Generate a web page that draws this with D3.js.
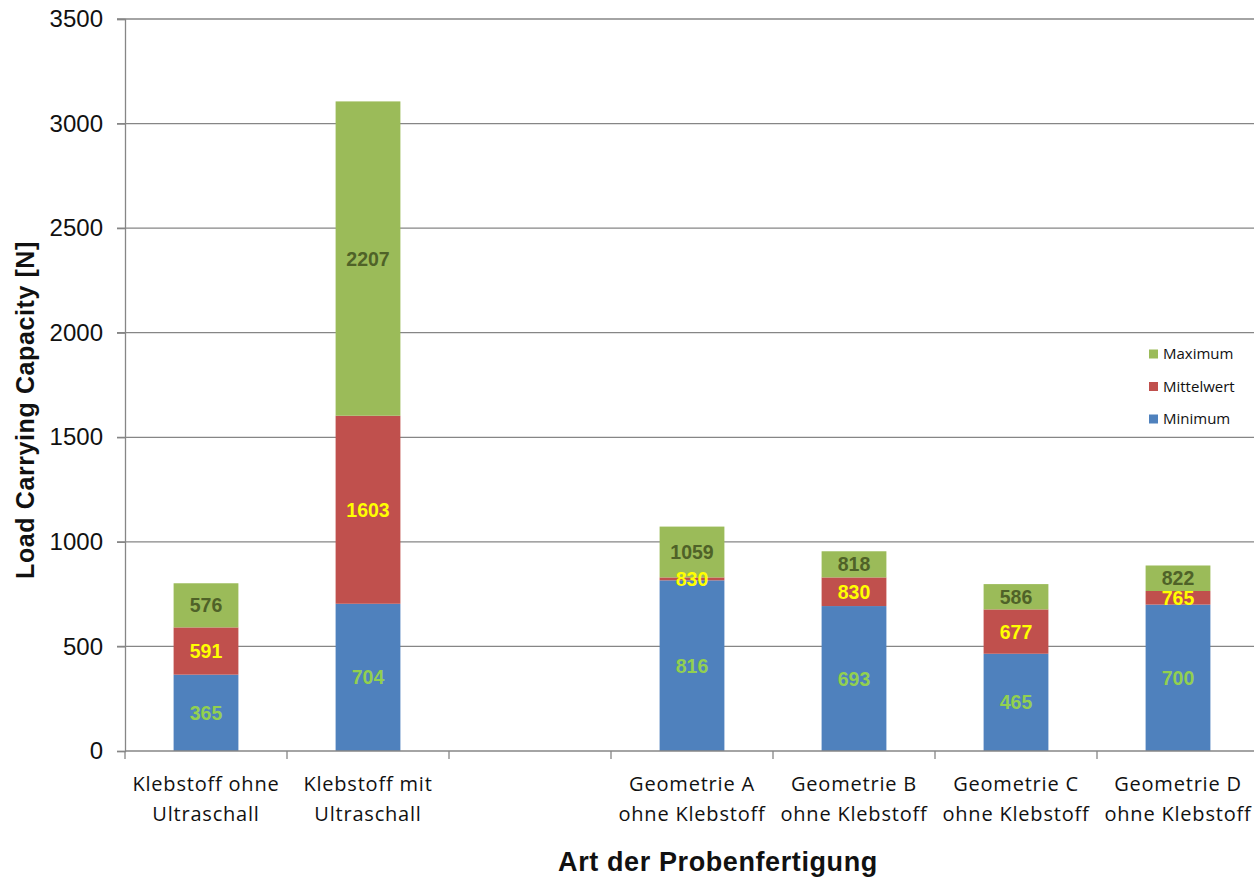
<!DOCTYPE html>
<html>
<head>
<meta charset="utf-8">
<script src="https://cdn.jsdelivr.net/npm/d3@7"></script>
<style>
  html, body { margin: 0; padding: 0; background: #fff; }
  svg { display: block; }
</style>
</head>
<body>
<svg id="chart" width="1254" height="878"></svg>
<script>
// Sample preparation methods (third slot intentionally left empty)
const categories = [
  "Klebstoff ohne|Ultraschall",
  "Klebstoff mit|Ultraschall",
  "",
  "Geometrie A|ohne Klebstoff",
  "Geometrie B|ohne Klebstoff",
  "Geometrie C|ohne Klebstoff",
  "Geometrie D|ohne Klebstoff"
];
// Load carrying capacity in N
const minimum    = [365,  704, null, 816, 693, 465, 700];
const mittelwert = [591, 1603, null, 830, 830, 677, 765];
const maximum    = [576, 2207, null, 1059, 818, 586, 822];

const yTicks = [0, 500, 1000, 1500, 2000, 2500, 3000, 3500];
const seriesNames = ["Minimum", "Mittelwert", "Maximum"];
const seriesColors = ["#4f81bd", "#c0504d", "#9bbb59"];
const labelColors = ["#92d050", "#ffff00", "#4f6228"];

const svg = d3.select("#chart");

const x = d3.scaleBand()
  .domain(categories)
  .range([125, 1259])
  .paddingInner(0.6)
  .paddingOuter(0.3);

const y = d3.scaleLinear().domain([0, 3500]).range([751, 19]);

// Segments: minimum, (mean - minimum), (maximum - minimum); labels show the raw values
const rows = categories.map((c, i) => ({
  cat: c,
  Minimum: minimum[i] == null ? 0 : minimum[i],
  Mittelwert: minimum[i] == null ? 0 : mittelwert[i] - minimum[i],
  Maximum: minimum[i] == null ? 0 : maximum[i] - minimum[i],
  labels: [minimum[i], mittelwert[i], maximum[i]]
}));

const stacked = d3.stack().keys(seriesNames)(rows);

// Gridlines
svg.append("g")
  .selectAll("line")
  .data(yTicks.filter(d => d > 0))
  .join("line")
  .attr("x1", 117).attr("x2", 1259)
  .attr("y1", d => y(d)).attr("y2", d => y(d))
  .attr("stroke", "#868686").attr("stroke-width", 1.3);

// Y axis
const yAxis = svg.append("g")
  .attr("transform", "translate(125,0)")
  .call(d3.axisLeft(y).tickValues(yTicks).tickSize(8).tickPadding(14).tickFormat(d3.format("d")));
yAxis.select(".domain").attr("stroke", "#868686").attr("stroke-width", 1.3);
yAxis.selectAll(".tick line").attr("stroke", "#868686").attr("stroke-width", 1.3);
yAxis.selectAll(".tick text")
  .attr("font-family", "'Liberation Sans', Arial, sans-serif")
  .attr("font-size", 24).attr("fill", "#111");

// Bars
const layers = svg.append("g").selectAll("g")
  .data(stacked)
  .join("g")
  .attr("fill", (d, i) => seriesColors[i]);

layers.selectAll("rect")
  .data(d => d.filter(s => s.data.labels[0] != null))
  .join("rect")
  .attr("x", d => x(d.data.cat))
  .attr("width", x.bandwidth())
  .attr("y", d => y(d[1]))
  .attr("height", d => y(d[0]) - y(d[1]));

// X axis
const xAxisG = svg.append("g");
xAxisG.append("line")
  .attr("x1", 125).attr("x2", 1259)
  .attr("y1", y(0)).attr("y2", y(0))
  .attr("stroke", "#868686").attr("stroke-width", 1.3);
const boundaries = categories.map(c => x(c) - x.step() * x.paddingOuter())
  .concat([x(categories[categories.length - 1]) + x.bandwidth() + x.step() * x.paddingOuter()]);
xAxisG.selectAll("line.tick")
  .data(boundaries)
  .join("line")
  .attr("class", "tick")
  .attr("x1", d => d).attr("x2", d => d)
  .attr("y1", y(0)).attr("y2", y(0) + 8)
  .attr("stroke", "#868686").attr("stroke-width", 1.3);

const catLabels = xAxisG.selectAll("text.cat")
  .data(categories.filter(c => c !== ""))
  .join("text")
  .attr("class", "cat")
  .attr("text-anchor", "middle")
  .attr("font-family", "'Open Sans', 'Noto Sans', sans-serif")
  .attr("font-size", 20)
  .attr("letter-spacing", 0.8)
  .attr("fill", "#111");
catLabels.selectAll("tspan")
  .data(c => c.split("|").map(t => ({ c, t })))
  .join("tspan")
  .attr("x", d => x(d.c) + x.bandwidth() / 2)
  .attr("y", (d, i) => 791 + i * 30)
  .text(d => d.t);

// Value labels at segment centres
stacked.forEach((layer, si) => {
  svg.append("g").selectAll("text")
    .data(layer.filter(s => s.data.labels[0] != null))
    .join("text")
    .attr("x", d => x(d.data.cat) + x.bandwidth() / 2)
    .attr("y", d => y((d[0] + d[1]) / 2))
    .attr("dy", "0.36em")
    .attr("text-anchor", "middle")
    .attr("font-family", "'Liberation Sans', Arial, sans-serif")
    .attr("font-weight", "bold")
    .attr("font-size", 19.5)
    .attr("fill", labelColors[si])
    .text(d => d.data.labels[si]);
});

// Legend (top entry = last series)
const legend = svg.append("g").attr("transform", "translate(1149,354)");
const legendItems = seriesNames.slice().reverse();
const legendColors = seriesColors.slice().reverse();
legendItems.forEach((name, i) => {
  const g = legend.append("g").attr("transform", `translate(0,${i * 32.5})`);
  g.append("rect").attr("x", 0).attr("y", -4.5).attr("width", 9).attr("height", 9)
    .attr("fill", legendColors[i]);
  g.append("text").attr("x", 14).attr("y", 0).attr("dy", "0.35em")
    .attr("font-family", "'Open Sans', 'Noto Sans', sans-serif")
    .attr("font-size", 15).attr("fill", "#111")
    .text(name);
});

// Axis titles
svg.append("text")
  .attr("transform", "translate(34,410) rotate(-90)")
  .attr("text-anchor", "middle")
  .attr("font-family", "'Liberation Sans', Arial, sans-serif")
  .attr("font-weight", "bold").attr("font-size", 25).attr("letter-spacing", 0.6).attr("fill", "#111")
  .text("Load Carrying Capacity [N]");

svg.append("text")
  .attr("x", 718).attr("y", 871)
  .attr("text-anchor", "middle")
  .attr("font-family", "'Liberation Sans', Arial, sans-serif")
  .attr("font-weight", "bold").attr("font-size", 27).attr("letter-spacing", 0.6).attr("fill", "#111")
  .text("Art der Probenfertigung");
</script>
</body>
</html>
